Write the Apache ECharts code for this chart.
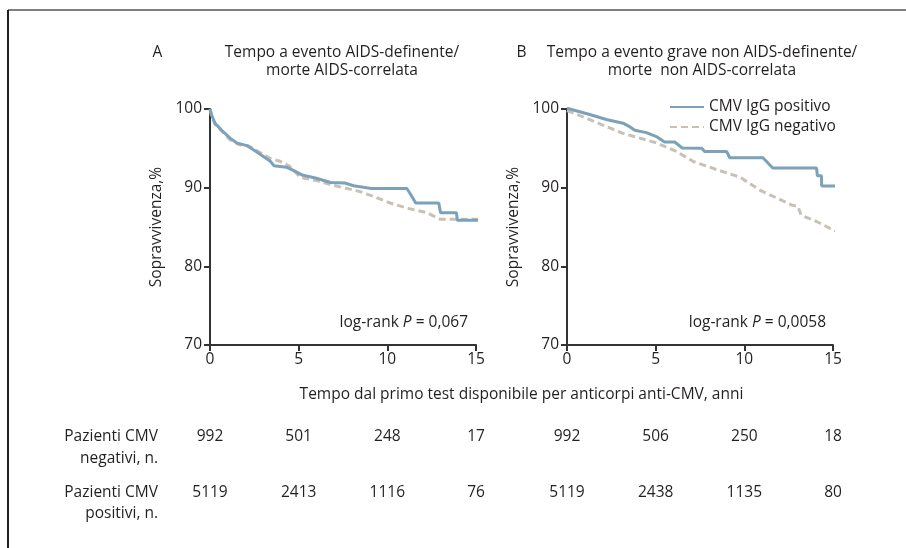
<!DOCTYPE html>
<html>
<head>
<meta charset="utf-8">
<script src="https://cdn.jsdelivr.net/npm/echarts@6/dist/echarts.min.js"></script>
<style>
html,body{margin:0;padding:0;background:#fff;}
#main{width:906px;height:548px;}
</style>
</head>
<body>
<div id="main"></div>
<script>
// ---- Data ----
// Panel A: time to AIDS-defining event / AIDS-related death  [years, survival %]
const posA = [[0,100],[0.1,99.2],[0.28,98.2],[0.66,97.3],[1.13,96.3],[1.5,95.7],[2.07,95.35],[2.6,94.6],[3.4,93.35],[3.6,92.8],[4.3,92.6],[4.7,92.2],[5.2,91.6],[6.0,91.2],[6.8,90.65],[7.6,90.6],[8.1,90.25],[9.1,89.9],[11.1,89.9],[11.3,89.2],[11.6,88.05],[12.9,88.05],[13.0,86.8],[13.9,86.8],[13.95,85.85],[15.45,85.85]];
const negA = [[0,100],[0.1,99.0],[0.3,98.0],[0.7,97.1],[1.13,96.1],[1.6,95.5],[2.2,95.3],[2.8,94.5],[3.4,93.7],[3.95,93.35],[4.5,92.7],[5.1,91.3],[6.0,90.9],[6.95,90.3],[8.46,89.5],[9.2,88.9],[10.15,88.05],[11.28,87.3],[12.2,86.85],[12.97,86.0],[15.45,86.0]];
// Panel B: time to serious non-AIDS event / non-AIDS-related death
const posB = [[0,100.1],[1.28,99.3],[2.22,98.66],[3.16,98.2],[3.5,97.8],[3.82,97.3],[4.48,97.0],[5.04,96.5],[5.5,95.8],[6.07,95.8],[6.5,95.05],[7.6,95.0],[7.76,94.6],[9.0,94.6],[9.18,93.8],[11.05,93.8],[11.6,92.5],[14.07,92.5],[14.12,91.5],[14.35,91.5],[14.36,90.2],[15.38,90.2]];
const negB = [[0,99.8],[1.28,98.66],[3.16,96.9],[5.04,95.7],[6.17,94.6],[6.92,93.6],[7.1,93.35],[8.43,92.3],[9.74,91.35],[10.87,89.7],[12.0,88.5],[12.66,87.8],[13.03,87.6],[13.2,86.5],[14.07,85.7],[14.8,84.86],[15.45,84.2]];

// Numbers at risk
const riskTimes = [0, 5, 10, 15];
const riskNegA = [992, 501, 248, 17];
const riskPosA = [5119, 2413, 1116, 76];
const riskNegB = [992, 506, 250, 18];
const riskPosB = [5119, 2438, 1135, 80];

const seriesNames = ['CMV IgG positivo', 'CMV IgG negativo'];
const titleA = 'Tempo a evento AIDS-definente/\nmorte AIDS-correlata';
const titleB = 'Tempo a evento grave non AIDS-definente/\nmorte  non AIDS-correlata';
const pA = '0,067';
const pB = '0,0058';
const xName = 'Tempo dal primo test disponibile per anticorpi anti-CMV, anni';
const yName = 'Sopravvivenza,%';

// ---- Styles ----
const FONT = 'Open Sans';
const FS = 15.5;
const TXT = '#231f20';
const BLUE = '#7ba2b8';
const BEIGE = '#c9c0b6';
const AX = '#333333';

const chart = echarts.init(document.getElementById('main'), null, {renderer: 'canvas'});

function xAx(idx) {
  return {
    type: 'value', gridIndex: idx, min: 0, max: 15, interval: 5,
    axisLine: {show: true, onZero: false, lineStyle: {color: AX, width: 2}},
    axisTick: {show: true, length: 6, lineStyle: {color: AX, width: 2}},
    axisLabel: {color: TXT, fontFamily: FONT, fontSize: FS, margin: 7},
    splitLine: {show: false}
  };
}
function yAx(idx) {
  return {
    type: 'value', gridIndex: idx, min: 70, max: 100, interval: 10,
    name: yName, nameLocation: 'middle', nameGap: 45,
    nameTextStyle: {color: TXT, fontFamily: FONT, fontSize: FS},
    axisLine: {show: true, lineStyle: {color: AX, width: 2}},
    axisTick: {show: true, length: 6, lineStyle: {color: AX, width: 2}},
    axisLabel: {color: TXT, fontFamily: FONT, fontSize: FS, margin: 8},
    splitLine: {show: false}
  };
}
function ser(name, data, idx, dashed) {
  return {
    name: name, type: 'line', xAxisIndex: idx, yAxisIndex: idx, data: data,
    symbol: 'none', showSymbol: false, clip: false, z: dashed ? 2 : 3,
    lineStyle: {color: dashed ? BEIGE : BLUE, width: 3, type: dashed ? [7, 4] : 'solid'},
    itemStyle: {color: dashed ? BEIGE : BLUE},
    animation: false
  };
}

chart.setOption({
  animation: false,
  backgroundColor: '#ffffff',
  grid: [
    {left: 210, right: 430, top: 109, bottom: 203},
    {left: 567, right: 73, top: 109, bottom: 203}
  ],
  xAxis: [xAx(0), xAx(1)],
  yAxis: [yAx(0), yAx(1)],
  legend: {
    data: seriesNames, orient: 'vertical', left: 664, top: 94,
    itemWidth: 34, itemHeight: 14, itemGap: 4,
    itemStyle: {opacity: 0, borderWidth: 0},
    textStyle: {color: TXT, fontFamily: FONT, fontSize: FS, padding: [0, 0, 0, 0]}
  },
  series: [
    ser(seriesNames[1], negA, 0, true),
    ser(seriesNames[0], posA, 0, false),
    ser(seriesNames[1], negB, 1, true),
    ser(seriesNames[0], posB, 1, false)
  ]
});

// ---- Annotations, titles and numbers-at-risk table ----
const g = [];
const FONTSTR = FS + 'px "' + FONT + '"';
const txt = (x, y, text, align, extra) => ({
  type: 'text', x: x, y: y,
  style: Object.assign({text: text, fill: TXT, font: FONTSTR, align: align || 'center', verticalAlign: 'middle'}, extra || {})
});
// frame
g.push({type: 'line', shape: {x1: 8, y1: 10, x2: 906, y2: 10}, style: {stroke: '#7f7f7f', lineWidth: 2}});
g.push({type: 'line', shape: {x1: 8, y1: 10, x2: 8, y2: 548}, style: {stroke: '#231f20', lineWidth: 2}});
// panel letters and titles
g.push(txt(157.5, 53, 'A'));
g.push(txt(521.5, 53, 'B'));
g.push(txt(342, 62, titleA, 'center', {lineHeight: 18}));
g.push(txt(702, 62, titleB, 'center', {lineHeight: 18}));
// log-rank
const rich = {i: {fontStyle: 'italic', fontFamily: FONT, fontSize: FS, fill: TXT}};
g.push({type: 'text', x: 468, y: 322.5, style: {text: 'log-rank {i|P} = ' + pA, rich: rich, fill: TXT, font: FONTSTR, align: 'right', verticalAlign: 'middle'}});
g.push({type: 'text', x: 826, y: 322.5, style: {text: 'log-rank {i|P} = ' + pB, rich: rich, fill: TXT, font: FONTSTR, align: 'right', verticalAlign: 'middle'}});
// x axis name (shared)
g.push(txt(521.5, 395, xName));
// table row labels
g.push(txt(158, 447.5, 'Pazienti CMV\nnegativi, n.', 'right', {lineHeight: 21.5}));
g.push(txt(158, 503, 'Pazienti CMV\npositivi, n.', 'right', {lineHeight: 21.5}));
// numbers at risk, placed with the axes' scales
riskTimes.forEach((t, i) => {
  const xa = chart.convertToPixel({xAxisIndex: 0}, t);
  const xb = chart.convertToPixel({xAxisIndex: 1}, t);
  g.push(txt(xa, 437, String(riskNegA[i])));
  g.push(txt(xa, 493, String(riskPosA[i])));
  g.push(txt(xb, 437, String(riskNegB[i])));
  g.push(txt(xb, 493, String(riskPosB[i])));
});
chart.setOption({graphic: g});
</script>
</body>
</html>
